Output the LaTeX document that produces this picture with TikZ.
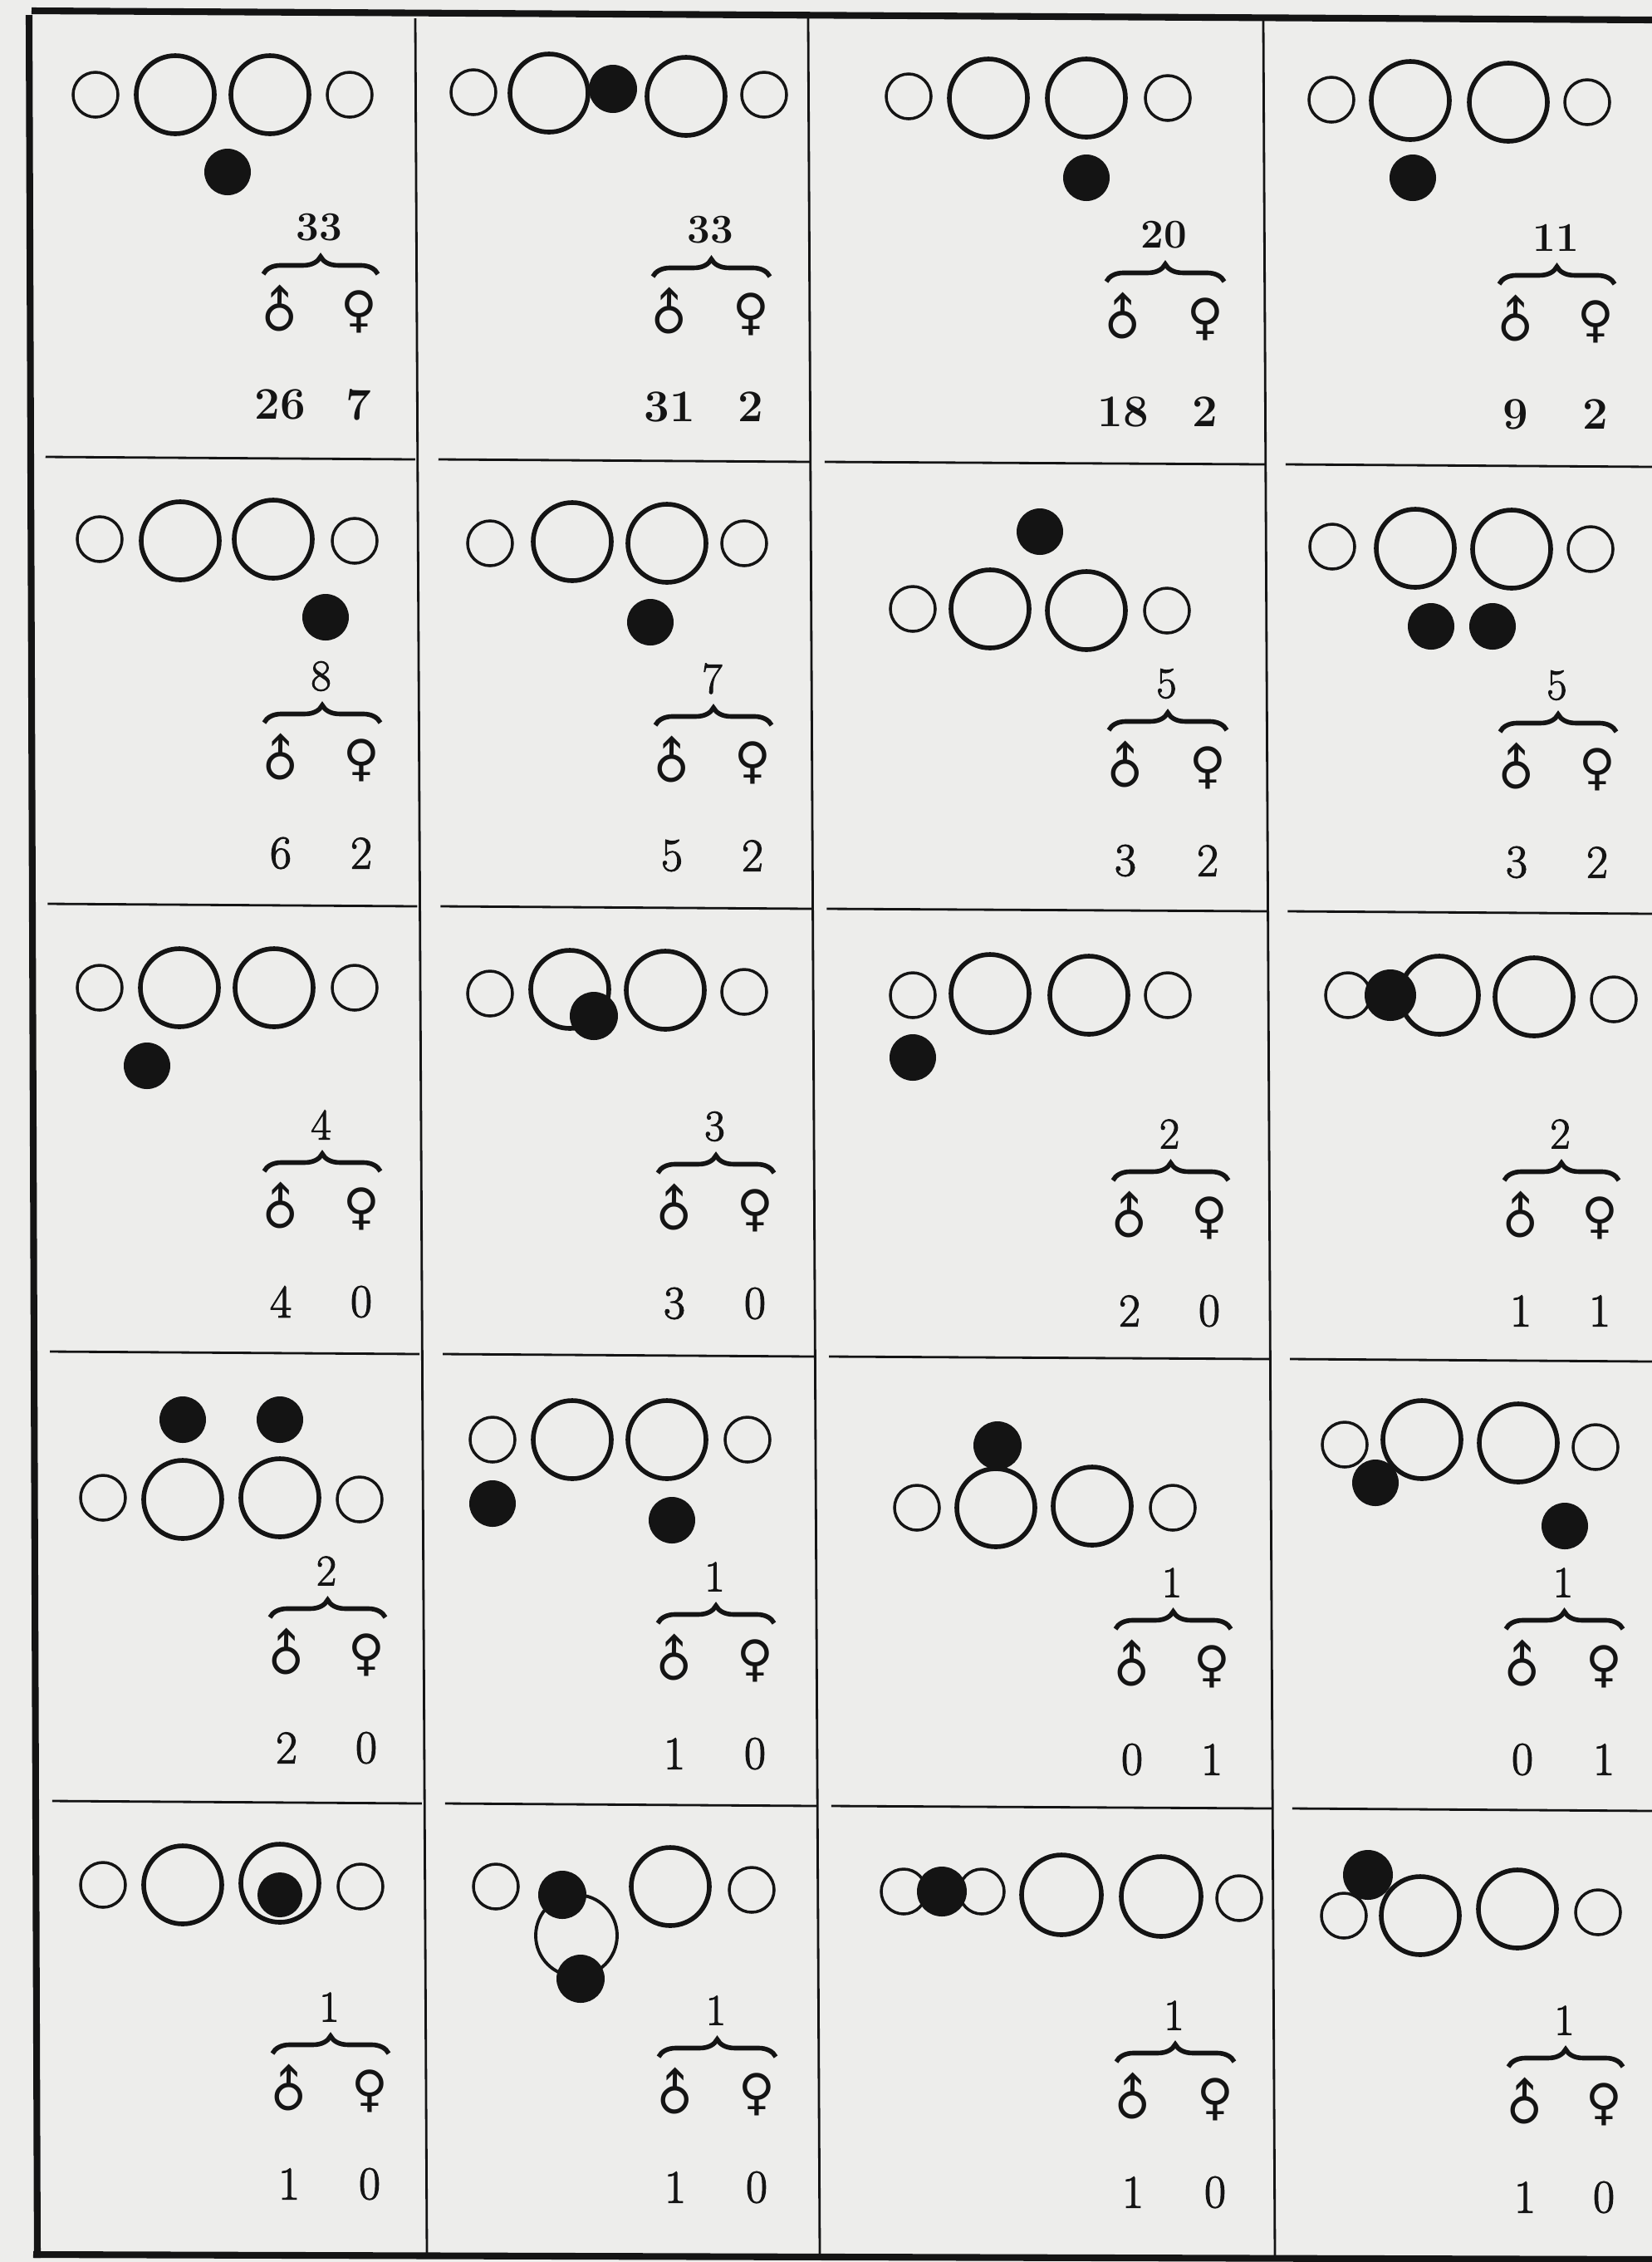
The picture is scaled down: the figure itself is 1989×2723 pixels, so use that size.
\documentclass[tikz,border=0pt]{standalone}
\usepackage{fontspec}
\usepackage{tikz}
\usetikzlibrary{calc,decorations.pathreplacing}
\newfontfamily\symfont{DejaVu Sans}
\newfontfamily\medfont[FakeBold=2]{Latin Modern Roman}
\definecolor{paper}{HTML}{EDEDEB}
\definecolor{ink}{HTML}{141414}

% one tally: total, brace, sex signs and the two counts
\newcommand{\tally}[7]{%
  \node (tot#1) [sumno] at ({(#2+#3)/2},{#4-101}) {#5};
  \draw[curly] ({#2-20},{#4-45}) -- ({#3+23},{#4-45});
  \node (ma#1) [sexsign, rotate=45] at (#2,#4) {♂};
  \node (fe#1) [sexsign] at (#3,#4) {♀};
  \node (nm#1) [tallyno] at (#2,{#4+112}) {#6};
  \node (nf#1) [tallyno] at (#3,{#4+112}) {#7};
}

\begin{document}
\begin{tikzpicture}[
    x=0.01cm, y=-0.01cm, color=ink,
    smallc/.style={line width=1pt},
    bigc/.style={line width=1.6pt},
    ringc/.style={line width=1.1pt},
    blackdot/.style={fill=ink},
    frame/.style={line width=2.3pt},
    rule/.style={line width=0.8pt},
    curly/.style={decorate, decoration={brace, amplitude=6pt}, line width=1.6pt},
    sumno/.style={font=\medfont\fontsize{15}{17}\selectfont, inner sep=0pt},
    tallyno/.style={font=\medfont\fontsize{16}{18}\selectfont, inner sep=0pt},
    sexsign/.style={font=\symfont\fontsize{17}{19}\selectfont, inner sep=0pt}
]
\useasboundingbox (0,0) rectangle (1989,2723);
\fill[paper] (0,0) rectangle (1989,2723);

% frame and rules
\draw[frame] (38,13) -- (1989,24);
\draw[frame] (35,18) -- (45,2718);
\draw[frame] (40,2714) -- (1989,2720);
\draw[rule] (500,22) -- (514,2714);
\draw[rule] (973,22) -- (987,2714);
\draw[rule] (1521,24) -- (1535,2716);
\foreach \yl in {550,1088,1627,2168} {
  \draw[rule] ({52+\yl*0.005},\yl) -- ({497+\yl*0.005},{\yl+3});
  \draw[rule] ({525+\yl*0.005},{\yl+3}) -- ({972+\yl*0.005},{\yl+6});
  \draw[rule] ({990+\yl*0.005},{\yl+6}) -- ({1520+\yl*0.005},{\yl+9});
  \draw[rule] ({1545+\yl*0.005},{\yl+9}) -- (1989,{\yl+12});
}

% row 1
\draw[smallc] (115,114) circle (27);
\draw[bigc] (211,114) circle (47);
\draw[bigc] (325,114) circle (47);
\draw[smallc] (421,114) circle (27);
\fill[blackdot] (274,207) circle (28);

\draw[smallc] (570,111) circle (27);
\draw[bigc] (661,112) circle (47);
\draw[bigc] (826,116) circle (47);
\draw[smallc] (920,114) circle (27);
\fill[blackdot] (738,107) circle (29);

\draw[smallc] (1094,116) circle (27);
\draw[bigc] (1190,118) circle (47);
\draw[bigc] (1308,118) circle (47);
\draw[smallc] (1406,118) circle (27);
\fill[blackdot] (1308,214) circle (28);

\draw[smallc] (1603,120) circle (27);
\draw[bigc] (1698,121) circle (47);
\draw[bigc] (1816,123) circle (47);
\draw[smallc] (1911,123) circle (27);
\fill[blackdot] (1701,214) circle (28);

\begin{scope}[sumno/.append style={font=\fontsize{14}{16}\selectfont\bfseries},
              tallyno/.append style={font=\fontsize{15.5}{18}\selectfont\bfseries}]
\tally{11}{337}{432}{375}{33}{26}{7}
\tally{12}{806}{904}{378}{33}{31}{2}
\tally{13}{1352}{1451}{384}{20}{18}{2}
\tally{14}{1825}{1921}{387}{11}{9}{2}
\end{scope}

% row 2
\draw[smallc] (120,649) circle (27);
\draw[bigc] (217,651) circle (47);
\draw[bigc] (329,649) circle (47);
\draw[smallc] (427,651) circle (27);
\fill[blackdot] (392,743) circle (28);

\draw[smallc] (590,654) circle (27);
\draw[bigc] (689,652) circle (47);
\draw[bigc] (803,654) circle (47);
\draw[smallc] (896,654) circle (27);
\fill[blackdot] (783,749) circle (28);

\draw[smallc] (1099,733) circle (27);
\draw[bigc] (1192,733) circle (47);
\draw[bigc] (1308,735) circle (47);
\draw[smallc] (1405,735) circle (27);
\fill[blackdot] (1252,640) circle (28);

\draw[smallc] (1604,658) circle (27);
\draw[bigc] (1704,660) circle (47);
\draw[bigc] (1820,661) circle (47);
\draw[smallc] (1915,661) circle (27);
\fill[blackdot] (1723,754) circle (28);
\fill[blackdot] (1797,754) circle (28);

\tally{21}{338}{435}{915}{8}{6}{2}
\tally{22}{809}{906}{918}{7}{5}{2}
\tally{23}{1355}{1454}{924}{5}{3}{2}
\tally{24}{1826}{1923}{926}{5}{3}{2}

% row 3
\draw[smallc] (120,1189) circle (27);
\draw[bigc] (216,1189) circle (47);
\draw[bigc] (330,1189) circle (47);
\draw[smallc] (427,1189) circle (27);
\fill[blackdot] (177,1283) circle (28);

\draw[smallc] (590,1196) circle (27);
\draw[bigc] (686,1191) circle (47);
\draw[bigc] (801,1192) circle (47);
\draw[smallc] (896,1194) circle (27);
\fill[blackdot] (715,1223) circle (29);

\draw[smallc] (1099,1198) circle (27);
\draw[bigc] (1192,1196) circle (47);
\draw[bigc] (1311,1198) circle (47);
\draw[smallc] (1406,1198) circle (27);
\fill[blackdot] (1099,1273) circle (28);

\draw[smallc] (1623,1198) circle (27);
\draw[bigc] (1733,1198) circle (47);
\draw[bigc] (1847,1200) circle (47);
\draw[smallc] (1943,1203) circle (27);
\fill[blackdot] (1674,1198) circle (31);

\tally{31}{338}{435}{1455}{4}{4}{0}
\tally{32}{812}{909}{1457}{3}{3}{0}
\tally{33}{1360}{1456}{1466}{2}{2}{0}
\tally{34}{1831}{1926}{1466}{2}{1}{1}

% row 4
\draw[smallc] (124,1803) circle (27);
\draw[bigc] (220,1805) circle (47);
\draw[bigc] (337,1803) circle (47);
\draw[smallc] (433,1805) circle (27);
\fill[blackdot] (220,1709) circle (28);
\fill[blackdot] (337,1709) circle (28);

\draw[smallc] (593,1733) circle (27);
\draw[bigc] (689,1733) circle (47);
\draw[bigc] (803,1733) circle (47);
\draw[smallc] (900,1733) circle (27);
\fill[blackdot] (593,1810) circle (28);
\fill[blackdot] (809,1830) circle (28);

\draw[smallc] (1104,1815) circle (27);
\draw[bigc] (1199,1815) circle (47);
\draw[bigc] (1315,1813) circle (47);
\draw[smallc] (1412,1815) circle (27);
\fill[blackdot] (1201,1740) circle (29);

\draw[smallc] (1619,1739) circle (27);
\draw[bigc] (1712,1733) circle (47);
\draw[bigc] (1828,1737) circle (47);
\draw[smallc] (1921,1742) circle (27);
\fill[blackdot] (1656,1785) circle (28);
\fill[blackdot] (1884,1837) circle (28);

\tally{41}{345}{441}{1992}{2}{2}{0}
\tally{42}{812}{909}{1999}{1}{1}{0}
\tally{43}{1363}{1459}{2006}{1}{0}{1}
\tally{44}{1833}{1931}{2006}{1}{0}{1}

% row 5
\draw[smallc] (124,2269) circle (27);
\draw[bigc] (220,2269) circle (47);
\draw[bigc] (337,2267) circle (47);
\draw[smallc] (434,2271) circle (27);
\fill[blackdot] (337,2281) circle (27);

\draw[smallc] (597,2271) circle (27);
\draw[ringc] (694,2330) circle (49);
\draw[bigc] (807,2271) circle (47);
\draw[smallc] (905,2275) circle (27);
\fill[blackdot] (677,2281) circle (29);
\fill[blackdot] (699,2382) circle (29);

\draw[smallc] (1088,2277) circle (27);
\draw[smallc] (1182,2277) circle (27);
\draw[bigc] (1278,2281) circle (48);
\draw[bigc] (1398,2283) circle (48);
\draw[smallc] (1492,2285) circle (27);
\fill[blackdot] (1134,2277) circle (30);

\draw[smallc] (1618,2306) circle (27);
\draw[bigc] (1710,2306) circle (47);
\draw[bigc] (1827,2298) circle (47);
\draw[smallc] (1924,2302) circle (27);
\fill[blackdot] (1647,2257) circle (30);

\tally{51}{348}{445}{2517}{1}{1}{0}
\tally{52}{813}{911}{2521}{1}{1}{0}
\tally{53}{1364}{1463}{2527}{1}{1}{0}
\tally{54}{1836}{1931}{2533}{1}{1}{0}
\end{tikzpicture}
\end{document}
